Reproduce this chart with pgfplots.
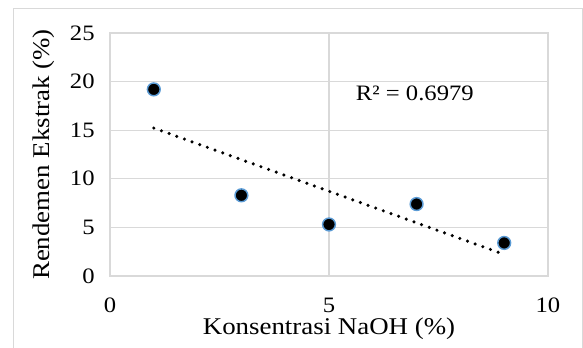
\documentclass[border=0pt]{standalone}
\usepackage{fontspec}
\setmainfont[FakeStretch=1.12]{Liberation Serif}
\usepackage{pgfplots}
\pgfplotsset{compat=1.18}
\definecolor{gridc}{HTML}{D9D9D9}
\definecolor{mkedge}{HTML}{5B9BD5}
\begin{document}
\begin{tikzpicture}[x=1pt,y=1pt]
\path[use as bounding box] (0,0) rectangle (437.25,261);
\draw[gridc,line width=0.75pt] (9.75,0) -- (9.75,254.25) -- (436.5,254.25) -- (436.5,0);
\begin{axis}[
  at={(82.5pt,54pt)}, anchor=south west,
  scale only axis, width=328.5pt, height=182.25pt,
  xmin=0, xmax=10, ymin=0, ymax=25,
  xtick={0,5,10}, ytick={0,5,10,15,20,25},
  grid=major, major grid style={gridc, line width=1pt},
  axis line style={gridc, line width=1pt},
  tick style={draw=none},
  tick label style={font=\fontsize{16.5}{16.5}\selectfont},
  xticklabel style={yshift=-13pt},
  yticklabel style={xshift=-8pt},
  xlabel={Konsentrasi NaOH (\%)},
  ylabel={Rendemen Ekstrak (\%)},
  label style={font=\fontsize{18}{18}\selectfont},
  xlabel style={at={(axis description cs:0.5,-0.215)}, anchor=center},
  ylabel style={at={(axis description cs:-0.152,0.5)}, anchor=center},
  /pgf/number format/assume math mode=true,
  clip=false,
]
\addplot[only marks, mark=*, mark size=4.8pt, mark options={fill=black, draw=mkedge, line width=1.1pt}]
  coordinates {(1,19.2) (3,8.3) (5,5.3) (7,7.4) (9,3.4)};
\addplot[black, line width=2.6pt, line cap=round, dash pattern=on 0pt off 6.1pt]
  coordinates {(1,15.22) (9,2.22)};
\node[font=\fontsize{16.5}{16.5}\selectfont, anchor=center] at (axis cs:6.96,18.8) {R² = 0.6979};
\end{axis}
\end{tikzpicture}
\end{document}
